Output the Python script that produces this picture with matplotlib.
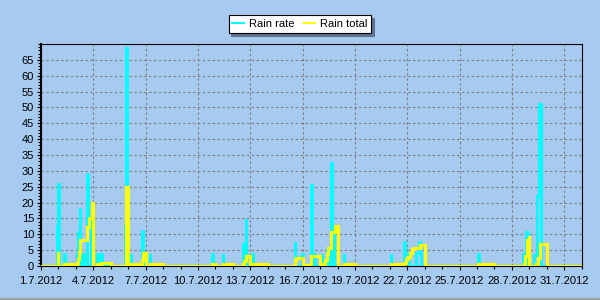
import matplotlib
matplotlib.use("Agg")
import matplotlib.pyplot as plt
import matplotlib.dates as mdates
from matplotlib.lines import Line2D
from matplotlib.ticker import MultipleLocator, FixedLocator, FixedFormatter
import pandas as pd

# rain rate (step series)
rate_times = [
    "2012-07-01 00:00", "2012-07-01 22:00", "2012-07-01 23:00", "2012-07-02 00:30",
    "2012-07-02 07:30", "2012-07-02 08:30",
    "2012-07-03 01:00", "2012-07-03 03:00", "2012-07-03 05:00", "2012-07-03 06:00",
    "2012-07-03 09:30", "2012-07-03 10:30",
    "2012-07-03 15:00", "2012-07-03 16:30", "2012-07-03 19:30", "2012-07-03 21:00",
    "2012-07-04 05:00", "2012-07-04 06:00", "2012-07-04 10:30", "2012-07-04 11:30",
    "2012-07-05 20:00", "2012-07-05 20:45", "2012-07-05 22:00",
    "2012-07-06 03:30", "2012-07-06 04:30",
    "2012-07-06 19:30", "2012-07-06 20:30",
    "2012-07-07 05:30", "2012-07-07 06:30",
    "2012-07-10 19:15", "2012-07-10 20:15",
    "2012-07-11 10:00", "2012-07-11 11:00",
    "2012-07-12 13:30", "2012-07-12 14:30", "2012-07-12 17:30", "2012-07-12 18:45",
    "2012-07-13 03:00", "2012-07-13 04:00",
    "2012-07-15 13:00", "2012-07-15 14:00",
    "2012-07-15 23:30", "2012-07-16 00:30",
    "2012-07-16 11:00", "2012-07-16 12:30", "2012-07-16 15:30", "2012-07-16 16:30",
    "2012-07-17 02:00", "2012-07-17 03:00", "2012-07-17 10:00", "2012-07-17 11:30",
    "2012-07-17 14:30", "2012-07-17 16:30", "2012-07-17 19:30",
    "2012-07-18 08:30", "2012-07-18 09:30",
    "2012-07-21 01:00", "2012-07-21 02:00",
    "2012-07-21 19:30", "2012-07-21 20:45", "2012-07-22 00:30", "2012-07-22 02:30",
    "2012-07-22 12:00", "2012-07-22 16:00", "2012-07-22 17:00", "2012-07-22 19:00",
    "2012-07-26 01:00", "2012-07-26 02:00",
    "2012-07-28 15:00", "2012-07-28 16:00", "2012-07-28 19:00", "2012-07-28 21:30",
    "2012-07-29 06:30", "2012-07-29 10:00", "2012-07-29 13:30", "2012-07-29 16:30",
    "2012-08-01 00:00",
]
rate_values = [
    0, 12.6, 25.7, 0,
    3.7, 0,
    3.7, 10.8, 18.2, 0,
    3.7, 0,
    29.0, 12.0, 15.6, 0,
    3.7, 0, 3.7, 0,
    12.5, 68.7, 0,
    3.7, 0,
    11.0, 0,
    3.7, 0,
    3.7, 0,
    3.7, 0,
    7.4, 0, 14.7, 0,
    3.7, 0,
    7.6, 0,
    3.7, 0,
    25.6, 0, 3.7, 0,
    3.7, 0, 5.0, 0,
    32.6, 10.3, 0,
    3.7, 0,
    3.7, 0,
    7.7, 3.8, 3.0, 0,
    4.0, 7.7, 4.5, 0,
    3.7, 0,
    3.7, 0, 10.8, 0,
    3.5, 22.1, 51.0, 0,
    0,
]

# rain total (step series)
total_times = [
    "2012-07-01 00:00", "2012-07-01 23:00", "2012-07-02 00:00", "2012-07-02 08:00",
    "2012-07-03 00:00", "2012-07-03 01:00", "2012-07-03 03:00", "2012-07-03 04:30",
    "2012-07-03 06:00", "2012-07-03 15:30", "2012-07-03 18:30", "2012-07-03 21:30",
    "2012-07-04 00:00", "2012-07-04 05:30", "2012-07-04 11:00", "2012-07-05 00:00",
    "2012-07-05 21:30", "2012-07-06 00:00", "2012-07-06 04:00", "2012-07-06 19:30",
    "2012-07-06 20:30", "2012-07-07 00:00", "2012-07-07 06:00", "2012-07-08 00:00",
    "2012-07-10 19:45", "2012-07-11 00:00", "2012-07-11 10:30", "2012-07-12 00:00",
    "2012-07-12 14:00", "2012-07-12 16:00", "2012-07-12 18:30", "2012-07-13 00:00",
    "2012-07-13 03:30", "2012-07-14 00:00",
    "2012-07-15 13:30", "2012-07-15 15:30", "2012-07-16 00:00", "2012-07-16 12:00",
    "2012-07-17 00:00", "2012-07-17 02:30", "2012-07-17 06:30", "2012-07-17 09:00",
    "2012-07-17 11:00", "2012-07-17 15:30", "2012-07-17 20:00", "2012-07-18 00:00",
    "2012-07-18 09:00", "2012-07-19 00:00",
    "2012-07-21 01:30", "2012-07-21 20:00", "2012-07-21 22:00", "2012-07-22 01:00",
    "2012-07-22 04:00", "2012-07-22 06:30", "2012-07-22 09:30", "2012-07-22 17:30",
    "2012-07-23 00:00",
    "2012-07-26 01:30", "2012-07-27 00:00",
    "2012-07-28 16:00", "2012-07-28 18:30", "2012-07-28 20:30", "2012-07-28 23:30",
    "2012-07-29 00:00", "2012-07-29 09:30", "2012-07-29 11:30", "2012-07-29 14:30",
    "2012-07-30 00:00", "2012-08-01 00:00",
]
total_values = [
    0, 4.5, 0, 0.6,
    0, 1.0, 2.2, 4.5,
    8.2, 12.2, 15.0, 19.8,
    0, 0.6, 0.8, 0,
    25.0, 0, 0.6, 2.0,
    4.0, 0, 0.6, 0,
    0.5, 0, 0.6, 0,
    0.6, 1.5, 3.3, 0,
    0.6, 0,
    1.9, 2.5, 0.3, 3.2,
    0, 0.6, 2.0, 3.7,
    5.6, 10.8, 12.6, 0,
    0.6, 0,
    0.6, 1.1, 2.1, 2.9,
    4.0, 5.3, 5.6, 6.6,
    0,
    0.5, 0,
    0.6, 3.0, 8.2, 9.5,
    0, 0.6, 2.4, 7.0,
    0, 0,
]

xtick_labels = ["1.7.2012", "4.7.2012", "7.7.2012", "10.7.2012", "13.7.2012", "16.7.2012",
                "19.7.2012", "22.7.2012", "25.7.2012", "28.7.2012", "31.7.2012"]
ytick_values = [0, 5, 10, 15, 20, 25, 30, 35, 40, 45, 50, 55, 60, 65]

BG = "#A6CAF0"
plt.rcParams["font.family"] = ["Liberation Sans", "DejaVu Sans"]

rate_t = pd.to_datetime(rate_times)
total_t = pd.to_datetime(total_times)
xtick_dates = pd.to_datetime(xtick_labels, format="%d.%m.%Y")

fig = plt.figure(figsize=(6, 3), dpi=100, facecolor=BG)
ax = fig.add_axes([41 / 600, 34 / 300, 540.7 / 600, 222 / 300])
ax.set_facecolor(BG)

ax.plot(rate_t, rate_values, drawstyle="steps-post", color="#00FFFF", lw=2.0,
        solid_joinstyle="miter", zorder=3)
ax.plot(total_t, total_values, drawstyle="steps-post", color="#FFFF00", lw=2.2,
        solid_joinstyle="miter", zorder=4)

ax.set_xlim(pd.Timestamp("2012-07-01"), pd.Timestamp("2012-08-01"))
ax.set_ylim(0, 70)
ax.set_yticks(ytick_values)
ax.yaxis.set_minor_locator(MultipleLocator(1))
ax.xaxis.set_major_locator(FixedLocator(mdates.date2num(xtick_dates)))
ax.xaxis.set_major_formatter(FixedFormatter(xtick_labels))
ax.xaxis.set_minor_locator(mdates.DayLocator())

ax.grid(True, which="major", color="#808080", linestyle=(0, (2.2, 2.2)), lw=0.8, zorder=1)
ax.set_axisbelow(True)
for side in ["top", "right", "bottom"]:
    ax.spines[side].set_linewidth(0.8)
ax.spines["left"].set_linewidth(1.5)
ax.tick_params(which="major", labelsize=8, length=3, width=0.8, pad=2, colors="black")
ax.tick_params(which="minor", length=2, width=0.8)
ax.tick_params(axis="x", which="major", pad=4)

handles = [Line2D([], [], color="#00FFFF", lw=1.5), Line2D([], [], color="#FFFF00", lw=1.5)]
leg = fig.legend(handles, ["Rain rate", "Rain total"], ncol=2, loc="center",
                 bbox_to_anchor=(0.5, 1 - 24 / 300), fontsize=8, frameon=True,
                 fancybox=False, edgecolor="black", framealpha=1, facecolor="white",
                 shadow={"color": "#5f7391", "alpha": 1}, handlelength=1.0,
                 handletextpad=0.5, columnspacing=0.8, borderpad=0.35)
leg.get_frame().set_linewidth(0.8)

fig.add_artist(Line2D([0, 1], [0.003, 0.003], transform=fig.transFigure,
                      color="#a0a0a0", lw=1.5))

fig.savefig("out.png", dpi=100, facecolor=BG)
